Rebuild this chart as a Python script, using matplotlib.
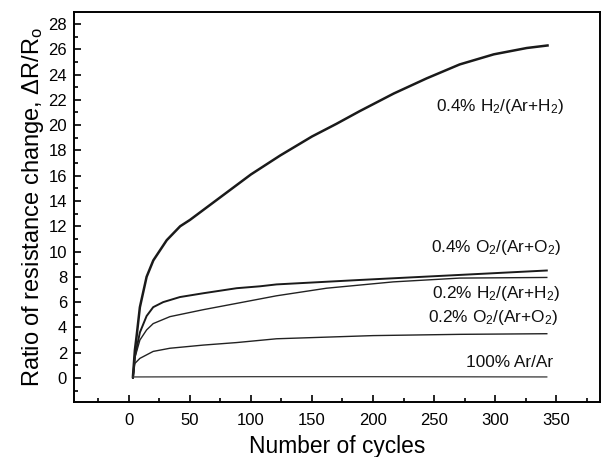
import matplotlib.pyplot as plt
from matplotlib.ticker import MultipleLocator

plt.rcParams['font.family'] = ['Liberation Sans', 'DejaVu Sans']
plt.rcParams['mathtext.fontset'] = 'custom'
plt.rcParams['mathtext.rm'] = 'Liberation Sans'
plt.rcParams['mathtext.it'] = 'Liberation Sans:italic'

# values
h2_04_x = [3.3, 4.9, 6.3, 9, 14.5, 20, 31, 42, 50, 100, 124, 150, 170, 189, 217, 244, 271, 299, 326, 343]
h2_04_y = [0.1, 2.2, 3.3, 5.6, 8.0, 9.3, 10.9, 12.0, 12.5, 16.1, 17.6, 19.1, 20.1, 21.1, 22.5, 23.7, 24.8, 25.6, 26.1, 26.3]

o2_04_x = [3.3, 4.9, 9, 14.5, 19.9, 28.1, 41.8, 60.9, 88.3, 107.4, 121, 189, 271, 342.4]
o2_04_y = [0, 1.7, 3.6, 4.9, 5.6, 6.0, 6.4, 6.7, 7.1, 7.25, 7.4, 7.75, 8.15, 8.5]

h2_02_x = [3.3, 4.9, 9, 14.5, 19.9, 33.6, 60.9, 88.3, 121, 162, 216.6, 271, 342.4]
h2_02_y = [0, 1.6, 3.0, 3.8, 4.3, 4.85, 5.4, 5.9, 6.5, 7.1, 7.6, 7.9, 7.95]

o2_02_x = [3.3, 4.9, 9, 19.9, 33.6, 60.9, 88.3, 121, 200, 271, 342.4]
o2_02_y = [0, 1.15, 1.55, 2.1, 2.35, 2.6, 2.8, 3.1, 3.35, 3.45, 3.5]

ar_x = [3.3, 100, 200, 342.4]
ar_y = [0.08, 0.1, 0.1, 0.08]

labels = ['0.4% H$_2$/(Ar+H$_2$)', '0.4% O$_2$/(Ar+O$_2$)', '0.2% H$_2$/(Ar+H$_2$)',
          '0.2% O$_2$/(Ar+O$_2$)', '100% Ar/Ar']
label_x = [304, 301, 301, 298, 312]
label_y = [21.5, 10.3, 6.7, 4.8, 1.2]

fig = plt.figure(figsize=(6.02, 4.57), dpi=100)
ax = fig.add_axes([0.1229, 0.1204, 0.8738, 0.8534])

ax.plot(h2_04_x, h2_04_y, color='#1a1a1a', lw=1.8)
ax.plot(o2_04_x, o2_04_y, color='#1a1a1a', lw=1.4)
ax.plot(h2_02_x, h2_02_y, color='#222222', lw=1.0)
ax.plot(o2_02_x, o2_02_y, color='#222222', lw=1.0)
ax.plot(ar_x, ar_y, color='#333333', lw=0.9)

for t, lx, ly in zip(labels, label_x, label_y):
    ax.text(lx, ly, t, fontsize=12.4, ha='center', va='center', color='#111111')

ax.set_xlim(-45, 386)
ax.set_ylim(-1.9, 28.95)
ax.xaxis.set_major_locator(MultipleLocator(50))
ax.xaxis.set_minor_locator(MultipleLocator(25))
ax.yaxis.set_major_locator(MultipleLocator(2))
ax.yaxis.set_minor_locator(MultipleLocator(1))
ax.tick_params(which='both', direction='in', labelsize=12, width=1.2)
ax.tick_params(axis='x', pad=8)
ax.tick_params(axis='y', pad=5)
ax.tick_params(which='major', length=5)
ax.tick_params(which='minor', length=3)
for s in ax.spines.values():
    s.set_linewidth(1.4)

ax.set_xlabel('Number of cycles', fontsize=16.4, labelpad=5)
ax.set_ylabel(r'Ratio of resistance change, ΔR/R$_\mathrm{o}$', fontsize=17, labelpad=2)

fig.savefig('out.png', dpi=100)
